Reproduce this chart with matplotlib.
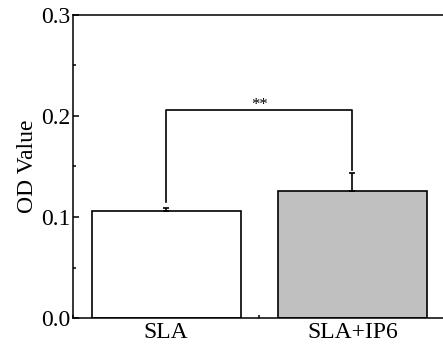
import matplotlib.pyplot as plt
from matplotlib.ticker import MultipleLocator

# Data
groups = ['SLA', 'SLA+IP6']
od_values = [0.106, 0.1255]
od_errors = [0.003, 0.018]
bar_colors = ['white', '#c0c0c0']
sig_label = '**'

plt.rcParams['font.family'] = ['Liberation Serif', 'DejaVu Serif']

fig = plt.figure(figsize=(4.43, 3.47), dpi=100)
ax = fig.add_axes([73 / 443, 29 / 347, 372.5 / 443, 303 / 347])

x = [1, 2]
ax.bar(x, od_values, width=0.8, color=bar_colors, edgecolor='black', linewidth=1.2,
       yerr=[[0, 0], od_errors], capsize=2.5,
       error_kw=dict(elinewidth=1.2, capthick=1.2, ecolor='black'), zorder=2)

# significance bracket
y_top = 0.206
ax.plot([1, 1, 2, 2], [od_values[0] + od_errors[0] + 0.006, y_top, y_top,
                       od_values[1] + od_errors[1] + 0.0035],
        color='black', linewidth=1.2, zorder=3)
ax.text(1.5, y_top - 0.003, sig_label, ha='center', va='bottom', fontsize=12)

ax.set_xlim(0.5, 2.5)
ax.set_ylim(0, 0.3)
ax.set_xticks(x)
ax.set_xticklabels(groups)
ax.xaxis.set_minor_locator(MultipleLocator(0.5))
ax.yaxis.set_major_locator(MultipleLocator(0.1))
ax.yaxis.set_minor_locator(MultipleLocator(0.05))
ax.yaxis.set_major_formatter(plt.FormatStrFormatter('%.1f'))
ax.set_ylabel('OD Value', fontsize=17, labelpad=2)

ax.tick_params(which='both', direction='in', labelsize=17, width=1.1)
ax.tick_params(which='major', length=4)
ax.tick_params(which='minor', length=2.5)
ax.tick_params(axis='x', which='minor', bottom=True)
ax.tick_params(axis='x', pad=3)
ax.tick_params(axis='y', pad=2)

for side in ['left', 'top', 'bottom', 'right']:
    ax.spines[side].set_linewidth(1.1)

fig.savefig('out.png', dpi=100)
